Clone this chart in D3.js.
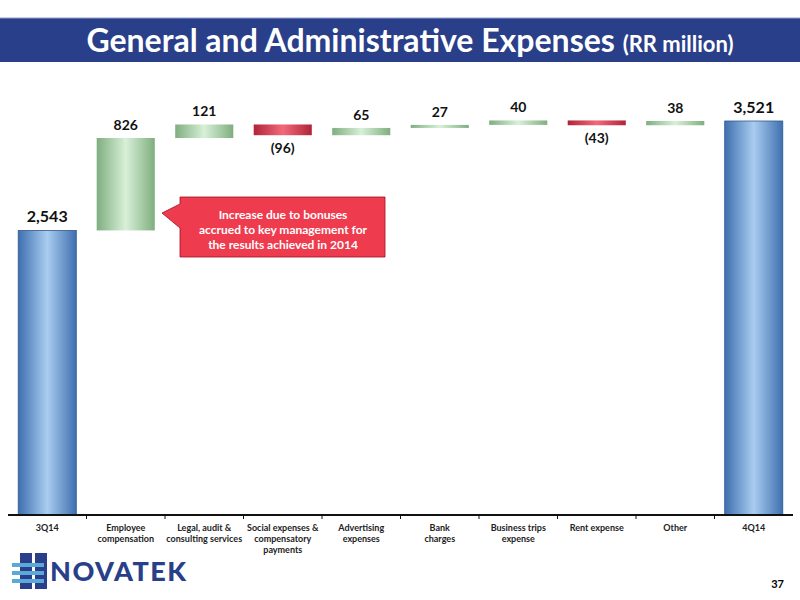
<!DOCTYPE html>
<html><head><meta charset="utf-8">
<script src="https://cdn.jsdelivr.net/npm/d3@7"></script>
<style>body{margin:0;background:#fff}svg{display:block}text{font-family:Lato,"Open Sans",sans-serif}</style>
</head><body><svg id="c" width="800" height="600"></svg>
<script>
const categories=["3Q14","Employee\ncompensation","Legal, audit &\nconsulting services","Social expenses &\ncompensatory\npayments","Advertising\nexpenses","Bank\ncharges","Business trips\nexpense","Rent expense","Other","4Q14"];
const values=[2543,826,121,-96,65,27,40,-43,38,3521];
const labels=["2,543","826","121","(96)","65","27","40","(43)","38","3,521"];
const types=["total","delta","delta","delta","delta","delta","delta","delta","delta","total"];

const svg=d3.select("#c");
const defs=svg.append("defs");
function grad(id,edge,mid){const g=defs.append("linearGradient").attr("id",id);
 g.append("stop").attr("offset","0%").attr("stop-color",edge);
 g.append("stop").attr("offset","50%").attr("stop-color",mid);
 g.append("stop").attr("offset","100%").attr("stop-color",edge);}
grad("gb","#3f6fb0","#a9cdf0");grad("gg","#7fae7f","#d8f0d8");grad("gr","#b0243a","#f26a7a");

svg.append("rect").attr("x",0).attr("y",18).attr("width",800).attr("height",44).attr("fill","#2a3f8a");
svg.append("line").attr("x1",0).attr("x2",800).attr("y1",18).attr("y2",18).attr("stroke","#8fa0d0");
const t=svg.append("text").attr("x",410).attr("y",52).attr("text-anchor","middle").attr("fill","#fff").attr("font-weight","bold");
t.append("tspan").attr("font-size",32).text("General and Administrative Expenses ");
t.append("tspan").attr("font-size",22).text("(RR million)");

const x=d3.scaleBand().domain(categories).range([8,793]).paddingInner(0.26).paddingOuter(0.13);
const y=d3.scaleLinear().domain([0,3521]).range([515,121]);
let run=0;const bars=values.map((v,i)=>{let y0,y1;if(types[i]==="total"){y0=0;y1=v;run=v}else{y0=run;y1=run+v;run=y1}return{c:categories[i],v,y0,y1,t:types[i],l:labels[i]}});
svg.selectAll("rect.b").data(bars).join("rect").attr("class","b")
 .attr("x",d=>x(d.c)).attr("width",x.bandwidth())
 .attr("y",d=>y(Math.max(d.y0,d.y1))).attr("height",d=>Math.abs(y(d.y0)-y(d.y1)))
 .attr("fill",d=>d.t==="total"?"url(#gb)":d.v>0?"url(#gg)":"url(#gr)")
 .attr("stroke",d=>d.t==="total"?"#2f5a90":"none").attr("stroke-width",0.8);
svg.selectAll("text.v").data(bars).join("text").attr("class","v")
 .attr("x",d=>x(d.c)+x.bandwidth()/2)
 .attr("y",d=>d.v<0?y(d.y1)+18:y(Math.max(d.y0,d.y1))-8)
 .attr("text-anchor","middle").attr("font-weight","bold")
 .attr("font-size",d=>d.t==="total"?16:14).attr("fill","#111").text(d=>d.l);

svg.append("line").attr("x1",8).attr("x2",793).attr("y1",515).attr("y2",515).attr("stroke","#111").attr("stroke-width",2);
categories.forEach((c,i)=>{if(i>0){const xx=x(c)-x.step()*x.paddingInner()/2;svg.append("line").attr("x1",xx).attr("x2",xx).attr("y1",515).attr("y2",519).attr("stroke","#111")}
 const tx=svg.append("text").attr("x",x(c)+x.bandwidth()/2).attr("y",531).attr("text-anchor","middle").attr("font-size",9).attr("font-weight","bold").attr("fill","#222");
 c.split("\n").forEach((s,k)=>tx.append("tspan").attr("x",x(c)+x.bandwidth()/2).attr("dy",k?11:0).text(s));});

svg.append("path").attr("d","M180,197 L385,197 L385,257 L180,257 L180,228 L162,213 L180,204 Z").attr("fill","#ee3b4e").attr("stroke","#a01020").attr("stroke-width",0.8);
["Increase due to bonuses","accrued to key management for","the results achieved in 2014"].forEach((s,k)=>svg.append("text").attr("x",283).attr("y",219+k*15).attr("text-anchor","middle").attr("fill","#fff").attr("font-size",12).attr("font-weight","bold").text(s));

const lg=svg.append("g");
lg.append("rect").attr("x",20).attr("y",553).attr("width",12).attr("height",36).attr("fill","#2a3f8a");
lg.append("rect").attr("x",35).attr("y",553).attr("width",12).attr("height",36).attr("fill","#2a3f8a");
[563,571,579].forEach(yy=>lg.append("rect").attr("x",12).attr("y",yy).attr("width",32).attr("height",4).attr("fill","#5aa9d8"));
lg.append("text").attr("x",50).attr("y",581).attr("font-size",27).attr("font-weight",900).attr("letter-spacing",1.5).attr("fill","#2a3f8a").text("NOVATEK");
svg.append("text").attr("x",784).attr("y",588).attr("text-anchor","end").attr("font-size",11).attr("font-weight","bold").text("37");
</script></body></html>
